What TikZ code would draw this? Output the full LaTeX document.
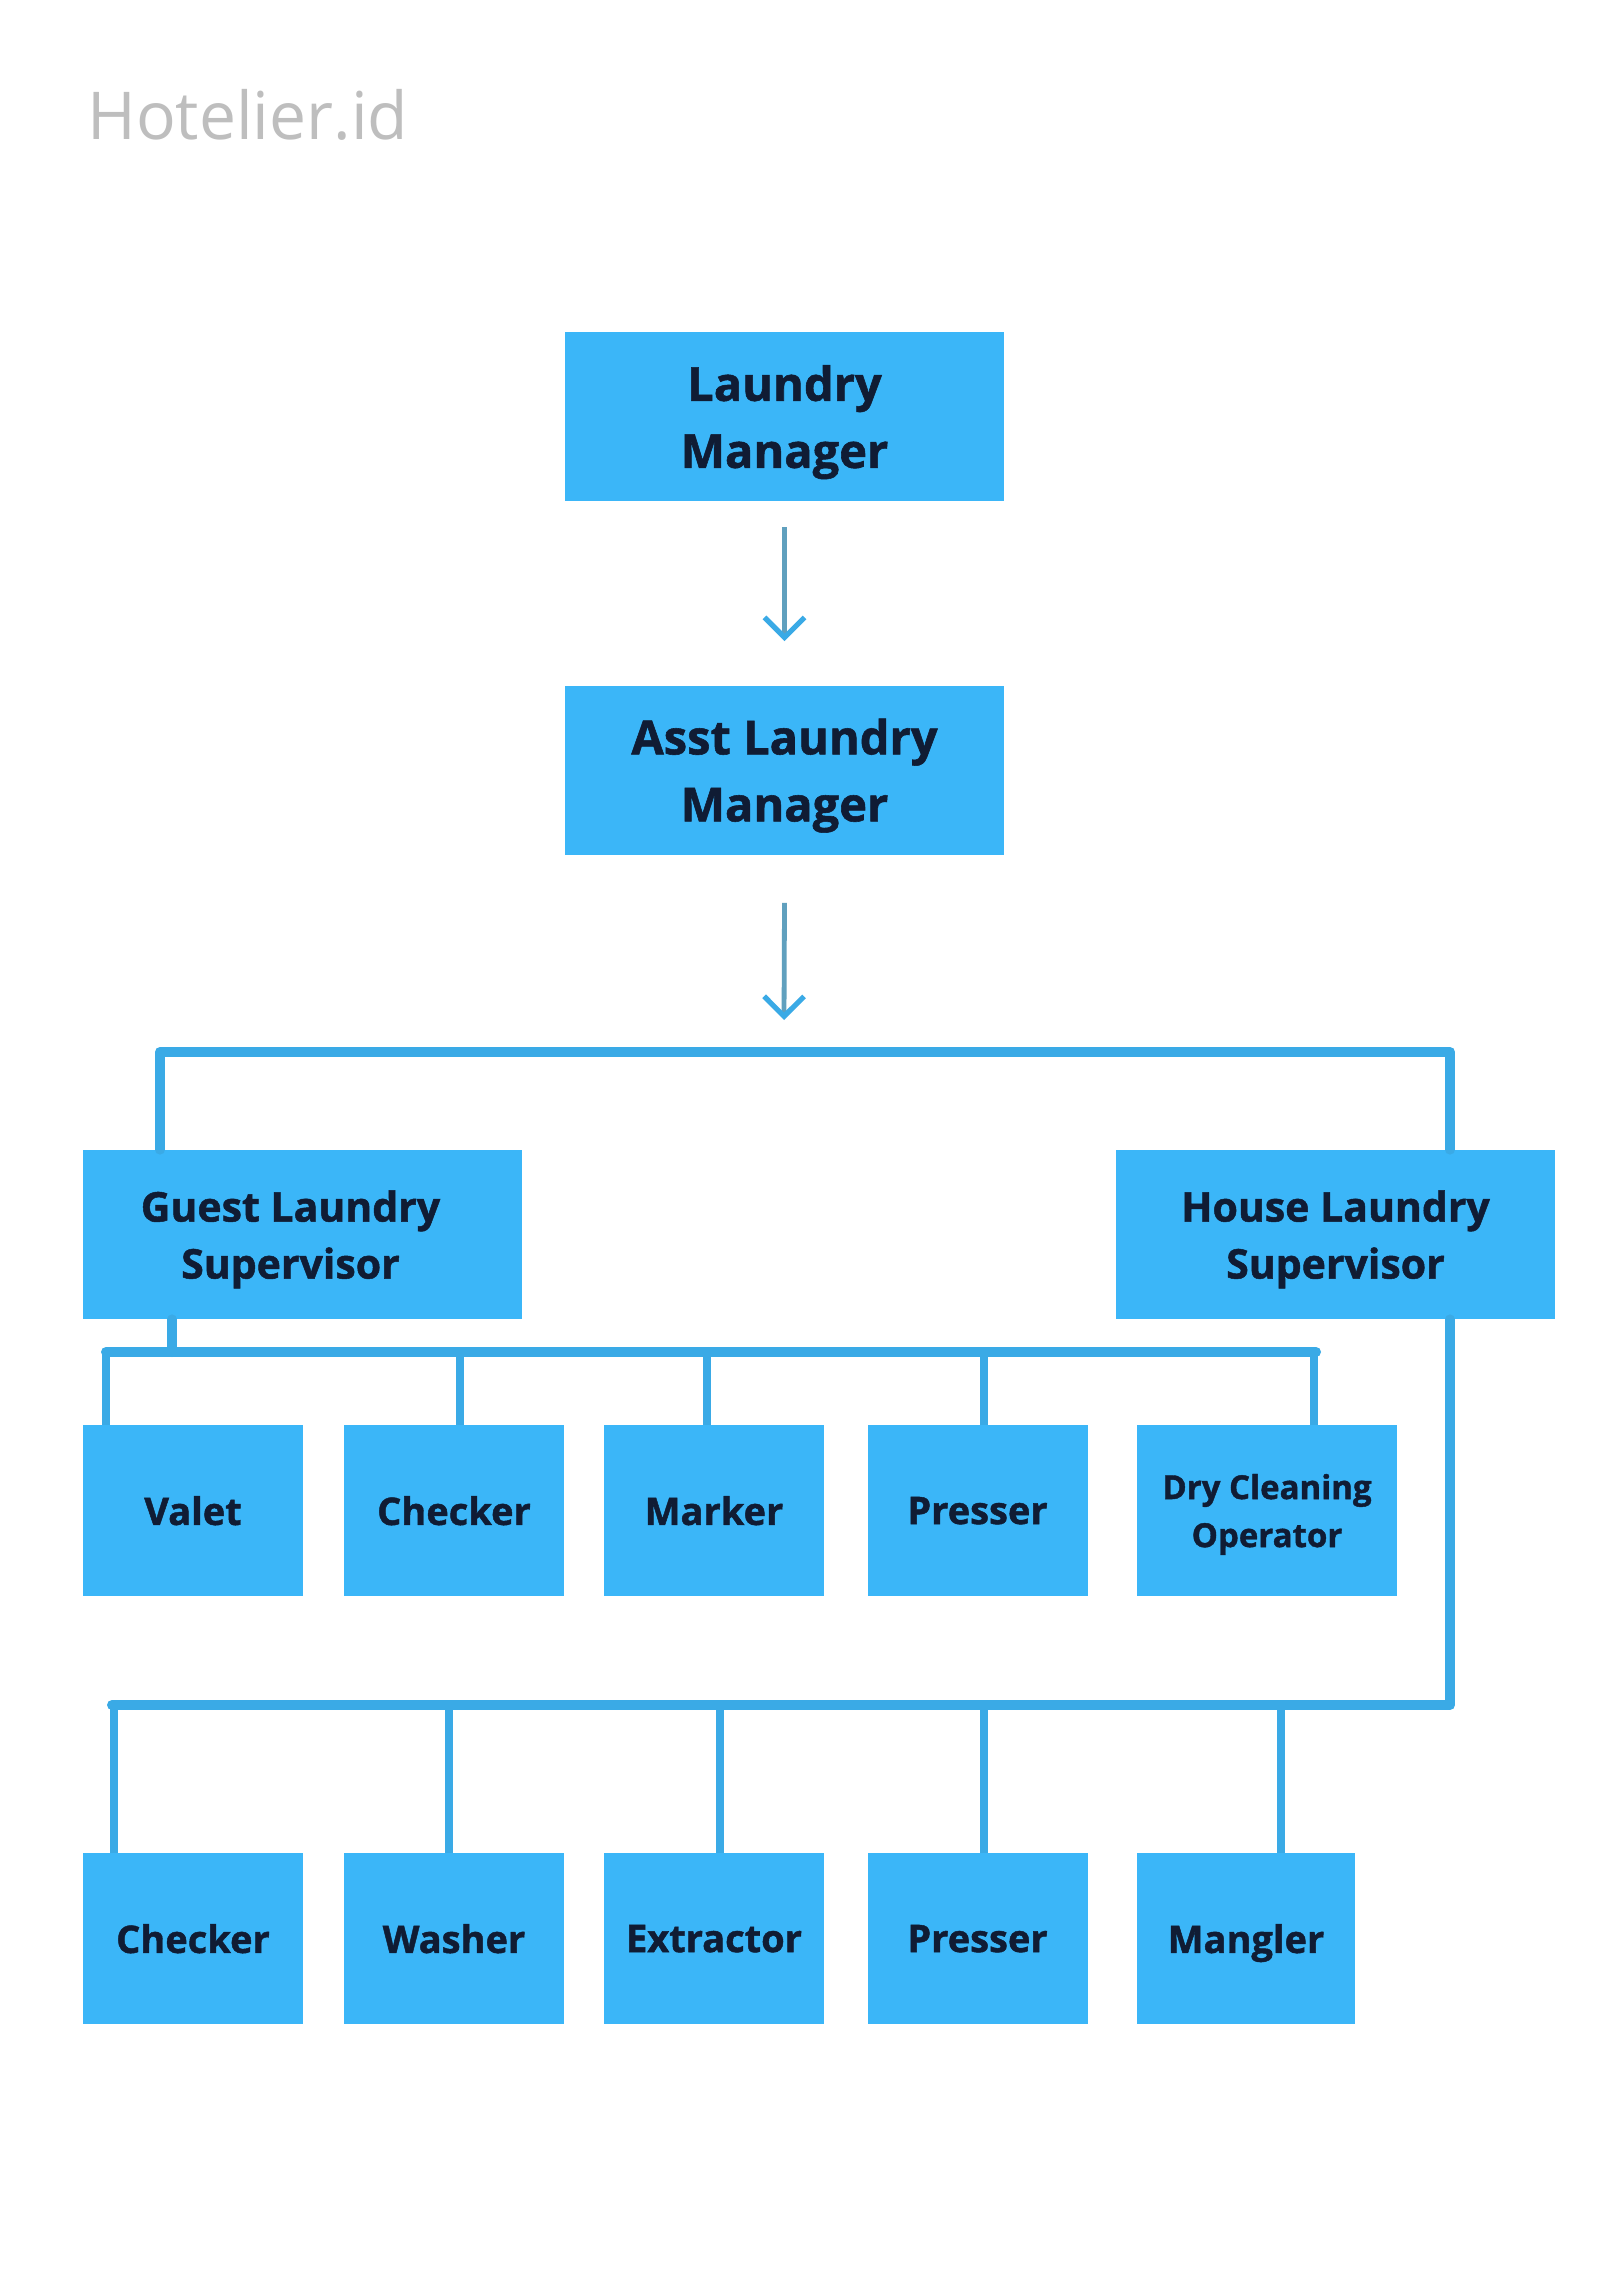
\documentclass[tikz,border=0pt]{standalone}
\usepackage{fontspec}
\setmainfont{Open Sans}[BoldFeatures={FakeBold=1.2}]
\usepackage{tikz}
\usetikzlibrary{arrows.meta, positioning, calc}
\definecolor{skyfill}{RGB}{59,182,248}
\definecolor{skyline}{RGB}{58,170,230}
\definecolor{arrowgray}{RGB}{96,160,190}
\definecolor{navytext}{RGB}{16,28,52}
\definecolor{brandgray}{RGB}{190,190,190}
\tikzset{
  topbox/.style={rectangle, fill=skyfill, text=navytext, align=center,
    minimum width=219.5pt, minimum height=84.5pt, inner sep=0pt, text depth=0pt,
    font=\fontsize{23.5}{33.5}\selectfont\bfseries},
  supbox/.style={rectangle, fill=skyfill, text=navytext, align=center,
    minimum width=219.5pt, minimum height=84.5pt, inner sep=0pt, text depth=0pt,
    font=\fontsize{20.5}{28.5}\selectfont\bfseries},
  staffbox/.style={rectangle, fill=skyfill, text=navytext, align=center,
    minimum width=110pt, minimum height=85.5pt, inner sep=0pt, text depth=0pt,
    font=\fontsize{19}{24}\selectfont\bfseries},
  brandtext/.style={text=brandgray, inner sep=0pt, font=\fontsize{33}{40}\selectfont},
  bus/.style={draw=skyline, line width=5pt, line join=round, line cap=round},
  link/.style={draw=skyline, line width=4pt},
  downarrow/.style={-{Straight Barb[length=10pt, width=20pt, line width=2.6pt, color=skyline]},
    draw=arrowgray, line width=2.4pt}
}
\begin{document}
\begin{tikzpicture}[x=0.5pt, y=-0.5pt]
  \fill[white] (0,0) rectangle (1600,2285);
  \node [brandtext, anchor=base west] (brand) at (87,140) {Hotelier.id};

  \node [topbox] (mgr) at (784.5,416.5) {Laundry\\Manager};
  \node [topbox] (asst) at (784.5,770) {Asst Laundry\\Manager};
  \node [supbox] (guest) at (302.5,1234.5) {Guest Laundry\hspace*{12pt}\\Supervisor\hspace*{12pt}};
  \node [supbox] (house) at (1335.5,1234.5) {House Laundry\\Supervisor};

  % guest laundry staff
  \node [staffbox] (valet) at (193,1510.5) {Valet};
  \node [staffbox] (gcheck) at (454,1510.5) {Checker};
  \node [staffbox] (marker) at (714,1510.5) {Marker};
  \node [staffbox] (gpress) at (977.5,1510.5) {Presser};
  \node [staffbox, minimum width=130pt, font=\fontsize{16.5}{24}\selectfont\bfseries] (dryclean) at (1267,1510.5) {Dry Cleaning\\Operator};

  % house laundry staff
  \node [staffbox] (hcheck) at (193,1938.5) {Checker};
  \node [staffbox] (washer) at (454,1938.5) {Washer};
  \node [staffbox] (extract) at (714,1938.5) {Extractor};
  \node [staffbox] (hpress) at (977.5,1938.5) {Presser};
  \node [staffbox, minimum width=109pt] (mangler) at (1246,1938.5) {Mangler};

  \coordinate (bus1) at (784,1052);
  \coordinate (bus1L) at (160,1052);
  \coordinate (bus1R) at (1450,1052);
  \coordinate (guestdrop) at (172,1352);
  \coordinate (bus2L) at (106,1352);
  \coordinate (bus2R) at (1316,1352);
  \coordinate (bus3L) at (112,1705);
  \coordinate (bus3R) at (1450,1705);

  \draw [downarrow] ($(mgr.south)+(0,26)$) -- ($(asst.north)+(0,-44)$);
  \draw [downarrow] ($(asst.south)+(0,48)$) -- ($(bus1)+(0,-32)$);

  \draw [bus] (guest.north -| bus1L) -- (bus1L) -- (bus1R) -- (house.north -| bus1R);

  \draw [bus] (guest.south -| guestdrop) -- (guestdrop);
  \draw [bus] (bus2L) -- (bus2R);
  \foreach \n/\x in {valet/106, gcheck/460, marker/707, gpress/984, dryclean/1314}
    \draw [link] (\x,1352) -- (\n.north -| \x,1352);

  \draw [bus] (house.south -| bus3R) -- (bus3R) -- (bus3L);
  \foreach \n/\x in {hcheck/114, washer/449, extract/720, hpress/984, mangler/1281}
    \draw [link] (\x,1705) -- (\n.north -| \x,1705);
\end{tikzpicture}
\end{document}
